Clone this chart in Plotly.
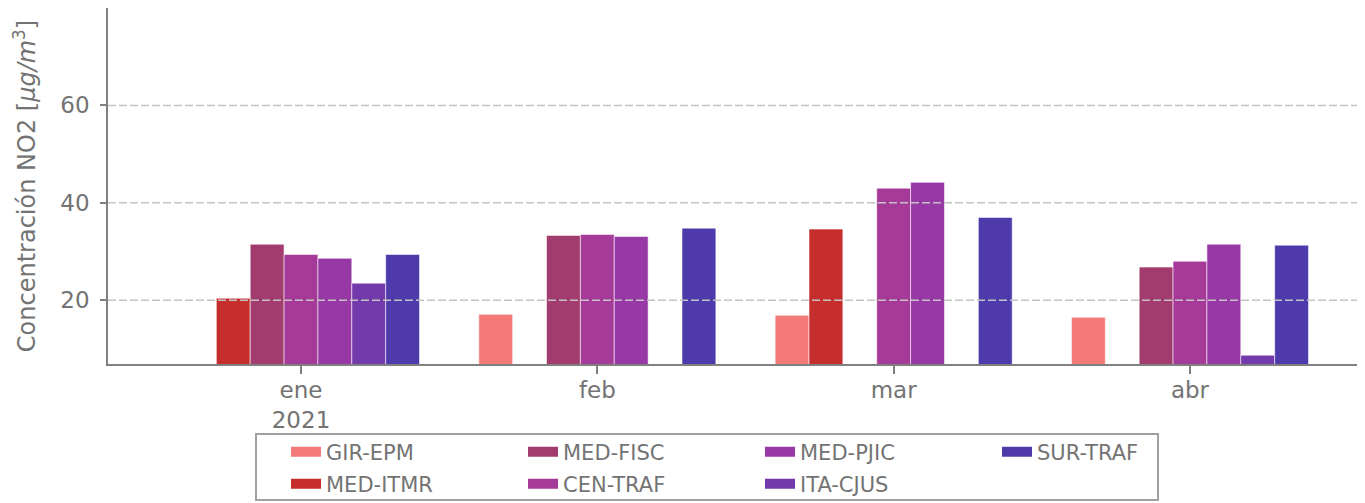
import plotly.graph_objects as go

months = ["ene", "feb", "mar", "abr"]
month_labels = ["ene<br>2021", "feb", "mar", "abr"]

stations = ["GIR-EPM", "MED-ITMR", "MED-FISC", "CEN-TRAF", "MED-PJIC", "ITA-CJUS", "SUR-TRAF"]
gir_epm = [None, 17.1, 16.9, 16.5]
med_itmr = [20.4, None, 34.6, None]
med_fisc = [31.5, 33.3, None, 26.8]
cen_traf = [29.4, 33.5, 43.0, 28.0]
med_pjic = [28.6, 33.1, 44.2, 31.5]
ita_cjus = [23.5, None, None, 8.7]
sur_traf = [29.4, 34.8, 37.0, 31.3]
values = [gir_epm, med_itmr, med_fisc, cen_traf, med_pjic, ita_cjus, sur_traf]

colors = ["#f47a7a", "#c62e2e", "#a33c6e", "#a63a98", "#9838a6", "#733aab", "#4f3aac"]
# legend layout: row 1 / row 2 as in the reference (column-major)
legend_row = {"GIR-EPM": "legend", "MED-FISC": "legend", "MED-PJIC": "legend", "SUR-TRAF": "legend",
              "MED-ITMR": "legend2", "CEN-TRAF": "legend2", "ITA-CJUS": "legend2"}
legend_rank = {"GIR-EPM": 1, "MED-FISC": 2, "MED-PJIC": 3, "SUR-TRAF": 4,
               "MED-ITMR": 1, "CEN-TRAF": 2, "ITA-CJUS": 3}

y_ticks = [20, 40, 60]

TXT = "#737373"
FONT = "DejaVu Sans"

fig = go.Figure()
for name, vals, col in zip(stations, values, colors):
    fig.add_trace(go.Bar(
        x=months, y=vals, name=name, marker_color=col,
        marker_line=dict(width=1, color="rgba(255,255,255,0.55)"),
        showlegend=False,
    ))
# legend entries (wide rectangles)
for name, col in zip(stations, colors):
    fig.add_trace(go.Scatter(
        x=[None], y=[None], mode="lines", name=name,
        line=dict(color=col, width=14),
        legend=legend_row[name], legendrank=legend_rank[name],
    ))

W, H = 1365, 503
OFF = 8  # page body margin
ml, mr, mt, mb = 100, 8, 0, 147
pw = W - ml - mr
ph = H - mt - mb
cat_px = 296.33
x0 = -(301 - 108) / cat_px
x1 = x0 + pw / cat_px


def px_x(p):
    return (p - OFF - ml) / pw


def px_y(p):
    return (H - mb - (p - OFF)) / ph


for t in y_ticks:
    fig.add_shape(type="line", xref="paper", yref="y", x0=0, x1=1, y0=t, y1=t,
                  line=dict(color="#c4c4c4", width=1.5, dash="8px,3px"), layer="above")

# legend frame
fig.add_shape(type="rect", xref="paper", yref="paper",
              x0=px_x(256), x1=px_x(1158), y0=px_y(434), y1=px_y(500),
              line=dict(color="#a0a0a0", width=2), fillcolor="white", layer="below")

leg_common = dict(orientation="h", bgcolor="rgba(0,0,0,0)", borderwidth=0,
                  font=dict(family=FONT, size=21, color=TXT),
                  entrywidth=192, entrywidthmode="pixels",
                  xanchor="left", yanchor="middle", traceorder="normal")

fig.update_layout(
    width=W, height=H,
    margin=dict(l=ml, r=mr, t=mt, b=mb),
    paper_bgcolor="white", plot_bgcolor="white",
    barmode="group", bargap=0.2, bargroupgap=0.0,
    font=dict(family=FONT, color=TXT),
    xaxis=dict(type="category", range=[x0, x1], tickmode="array",
               tickvals=months, ticktext=month_labels,
               showgrid=False, showline=True, linecolor="#808080", linewidth=1.5,
               ticks="outside", ticklen=8, tickcolor="#808080", tickwidth=1.5,
               ticklabelstandoff=-3,
               tickfont=dict(family=FONT, size=23, color=TXT), zeroline=False),
    yaxis=dict(range=[6.9, 80], tickmode="array", tickvals=y_ticks,
               showgrid=False, showline=True, linecolor="#808080", linewidth=1.5,
               ticks="outside", ticklen=6, tickcolor="#808080", tickwidth=1.5,
               ticklabelstandoff=6,
               tickfont=dict(family=FONT, size=23, color=TXT), zeroline=False,
               title=dict(text="Concentración NO2 [<i>μg/m</i><sup>3</sup>]",
                          font=dict(family=FONT, size=24, color=TXT), standoff=18)),
    legend=dict(x=px_x(286), y=px_y(452), **leg_common),
    legend2=dict(x=px_x(286), y=px_y(484), **leg_common),
)

fig.write_html("out.html")
